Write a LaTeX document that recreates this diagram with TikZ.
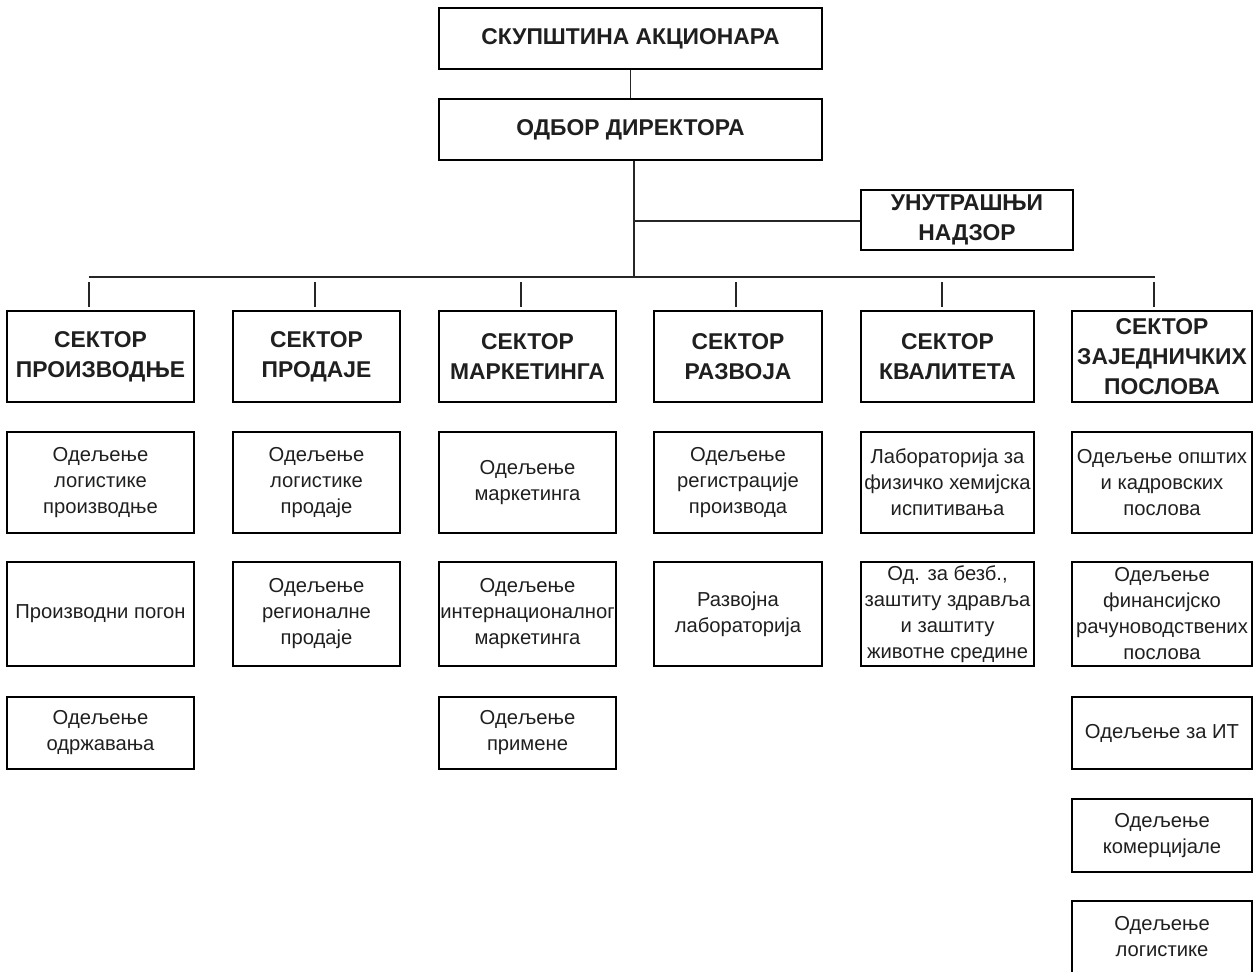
\documentclass[tikz,border=0pt]{standalone}
\usepackage{fontspec}
\setmainfont{Liberation Sans}
\usepackage{tikz}

\begin{document}
\begin{tikzpicture}[
  box/.style={draw,line width=1.1pt,inner sep=0pt,align=center,text=black!88},
  top/.style={box,minimum width=7.66cm,minimum height=1.22cm,font=\bfseries\fontsize{13}{17}\selectfont},
  sec/.style={box,minimum width=#1,minimum height=1.82cm,font=\bfseries\fontsize{13}{17}\selectfont},
  dep/.style 2 args={box,minimum width=#1,minimum height=#2,font=\fontsize{11.5}{14.8}\selectfont},
  link/.style={line width=0.8pt,draw=black!85}]
\useasboundingbox (0,0) rectangle (25.14,-19.42);
  % management
  \node[top]  (skup)   at (12.61,-0.77) {СКУПШТИНА АКЦИОНАРА};
  \node[top]  (odbor)  at (12.61,-2.59) {ОДБОР ДИРЕКТОРА};
  \node[box,minimum width=4.24cm,minimum height=1.20cm,font=\bfseries\fontsize{13}{17}\selectfont]
              (nadzor) at (19.34,-4.40) {УНУТРАШЊИ\\НАДЗОР};
  % sectors
  \node[sec=3.74cm] (proizv) at (2.01,-7.13)  {СЕКТОР\\ПРОИЗВОДЊЕ};
  \node[sec=3.34cm] (prod)   at (6.33,-7.13)  {СЕКТОР\\ПРОДАЈЕ};
  \node[sec=3.54cm] (mark)   at (10.55,-7.13) {СЕКТОР\\МАРКЕТИНГА};
  \node[sec=3.36cm] (razv)   at (14.76,-7.13) {СЕКТОР\\РАЗВОЈА};
  \node[sec=3.46cm] (kval)   at (18.95,-7.13) {СЕКТОР\\КВАЛИТЕТА};
  \node[sec=3.60cm] (zaj)    at (23.24,-7.13) {СЕКТОР\\ЗАЈЕДНИЧКИХ\\ПОСЛОВА};
  % departments
  \node[dep={3.74cm}{2.02cm}] (proizv1) at (2.01,-9.65)  {Одељење\\логистике\\производње};
  \node[dep={3.74cm}{2.08cm}] (proizv2) at (2.01,-12.28) {Производни погон};
  \node[dep={3.74cm}{1.44cm}] (proizv3) at (2.01,-14.66) {Одељење\\одржавања};
  \node[dep={3.34cm}{2.02cm}] (prod1)   at (6.33,-9.65)  {Одељење\\логистике\\продаје};
  \node[dep={3.34cm}{2.08cm}] (prod2)   at (6.33,-12.28) {Одељење\\регионалне\\продаје};
  \node[dep={3.54cm}{2.02cm}] (mark1)   at (10.55,-9.65)  {Одељење\\маркетинга};
  \node[dep={3.54cm}{2.08cm}] (mark2)   at (10.55,-12.28) {Одељење\\интернационалног\\маркетинга};
  \node[dep={3.54cm}{1.44cm}] (mark3)   at (10.55,-14.66) {Одељење\\примене};
  \node[dep={3.36cm}{2.02cm}] (razv1)   at (14.76,-9.65)  {Одељење\\регистрације\\производа};
  \node[dep={3.36cm}{2.08cm}] (razv2)   at (14.76,-12.28) {Развојна\\лабораторија};
  \node[dep={3.46cm}{2.02cm}] (kval1)   at (18.95,-9.65)  {Лабораторија за\\физичко хемијска\\испитивања};
  \node[dep={3.46cm}{2.08cm}] (kval2)   at (18.95,-12.28) {Од. за безб.,\\заштиту здравља\\и заштиту\\животне средине};
  \node[dep={3.60cm}{2.02cm}] (zaj1)    at (23.24,-9.65)  {Одељење општих\\и кадровских\\послова};
  \node[dep={3.60cm}{2.08cm}] (zaj2)    at (23.24,-12.28) {Одељење\\финансијско\\рачуноводствених\\послова};
  \node[dep={3.60cm}{1.44cm}] (zaj3)    at (23.24,-14.66) {Одељење за ИТ};
  \node[dep={3.60cm}{1.46cm}] (zaj4)    at (23.24,-16.71) {Одељење\\комерцијале};
  \node[dep={3.60cm}{1.44cm}] (zaj5)    at (23.24,-18.74) {Одељење\\логистике};
  % bus
  \coordinate (busL) at (1.78,-5.54);
  \coordinate (busR) at (23.10,-5.54);
  \coordinate (busM) at (12.68,-5.54);
  \coordinate (nz)   at (12.68,-4.42);
  \path[link] (skup.south) edge (odbor.north)
              (odbor.south -| busM) edge (busM)
              (nz) edge (nz -| nadzor.west)
              (busL) edge (busR);
  % ticks
  \foreach \t/\s in {1.78/proizv,6.30/prod,10.42/mark,14.72/razv,18.84/kval,23.08/zaj}
    \draw[link,shorten <=0.1cm,shorten >=0.06cm] (\t,-5.54) coordinate (t\s) -- (t\s |- \s.north);
\end{tikzpicture}
\end{document}
